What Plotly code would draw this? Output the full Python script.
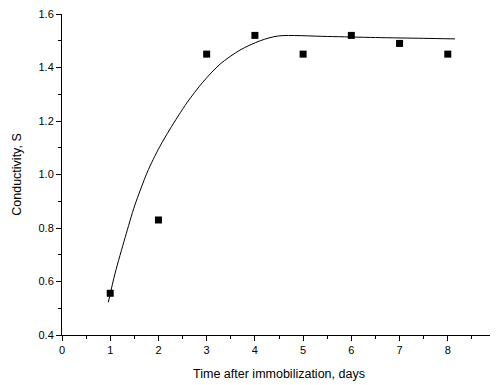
import plotly.graph_objects as go

# Measured data points
days = [1, 2, 3, 4, 5, 6, 7, 8]
conductivity = [0.556, 0.83, 1.45, 1.52, 1.45, 1.52, 1.49, 1.45]

# Fitted curve
fit_x = [0.96, 1.10, 1.31, 1.51, 1.76, 1.89, 2.03, 2.24, 2.59, 2.92, 3.28, 3.69, 4.11, 4.49, 5.5, 6.5, 7.5, 8.15]
fit_y = [0.522, 0.630, 0.765, 0.885, 1.005, 1.056, 1.105, 1.170, 1.268, 1.345, 1.413, 1.465, 1.500, 1.518, 1.516, 1.512, 1.509, 1.507]

x_ticks = [0, 1, 2, 3, 4, 5, 6, 7, 8, 9]
y_ticks = [0.4, 0.6, 0.8, 1.0, 1.2, 1.4, 1.6]

font = "Arial, Liberation Sans, sans-serif"

fig = go.Figure()
fig.add_trace(go.Scatter(x=fit_x, y=fit_y, mode="lines",
                         line=dict(color="black", width=1, shape="spline", smoothing=0.8),
                         showlegend=False, hoverinfo="skip"))
fig.add_trace(go.Scatter(x=days, y=conductivity, mode="markers",
                         marker=dict(symbol="square", size=7, color="black"),
                         showlegend=False))

fig.update_layout(
    width=490, height=377,
    margin=dict(l=54, r=2, t=6, b=50),
    paper_bgcolor="white", plot_bgcolor="white",
    font=dict(family=font, size=11, color="black"),
)
fig.update_xaxes(
    range=[0, 9], tickvals=x_ticks, ticktext=[str(v) for v in x_ticks],
    automargin=False, ticklabeloverflow="allow",
    showgrid=False, zeroline=False, showline=True, linecolor="black", linewidth=1,
    ticks="outside", ticklen=5, tickcolor="black",
    minor=dict(dtick=0.5, ticks="outside", ticklen=3, tickcolor="black", showgrid=False),
    title=dict(text="Time after immobilization, days", font=dict(size=12.5), standoff=14),
    tickfont=dict(size=11),
)
fig.update_yaxes(
    range=[0.4, 1.6], tickvals=y_ticks, ticktext=[f"{v:.1f}" for v in y_ticks],
    automargin=False, ticklabeloverflow="allow",
    showgrid=False, zeroline=False, showline=True, linecolor="black", linewidth=1,
    ticks="outside", ticklen=5, tickcolor="black",
    minor=dict(dtick=0.1, ticks="outside", ticklen=3, tickcolor="black", showgrid=False),
    title=dict(text="Conductivity, S", font=dict(size=12.5), standoff=14),
    tickfont=dict(size=11),
)

fig.write_html("out.html")
